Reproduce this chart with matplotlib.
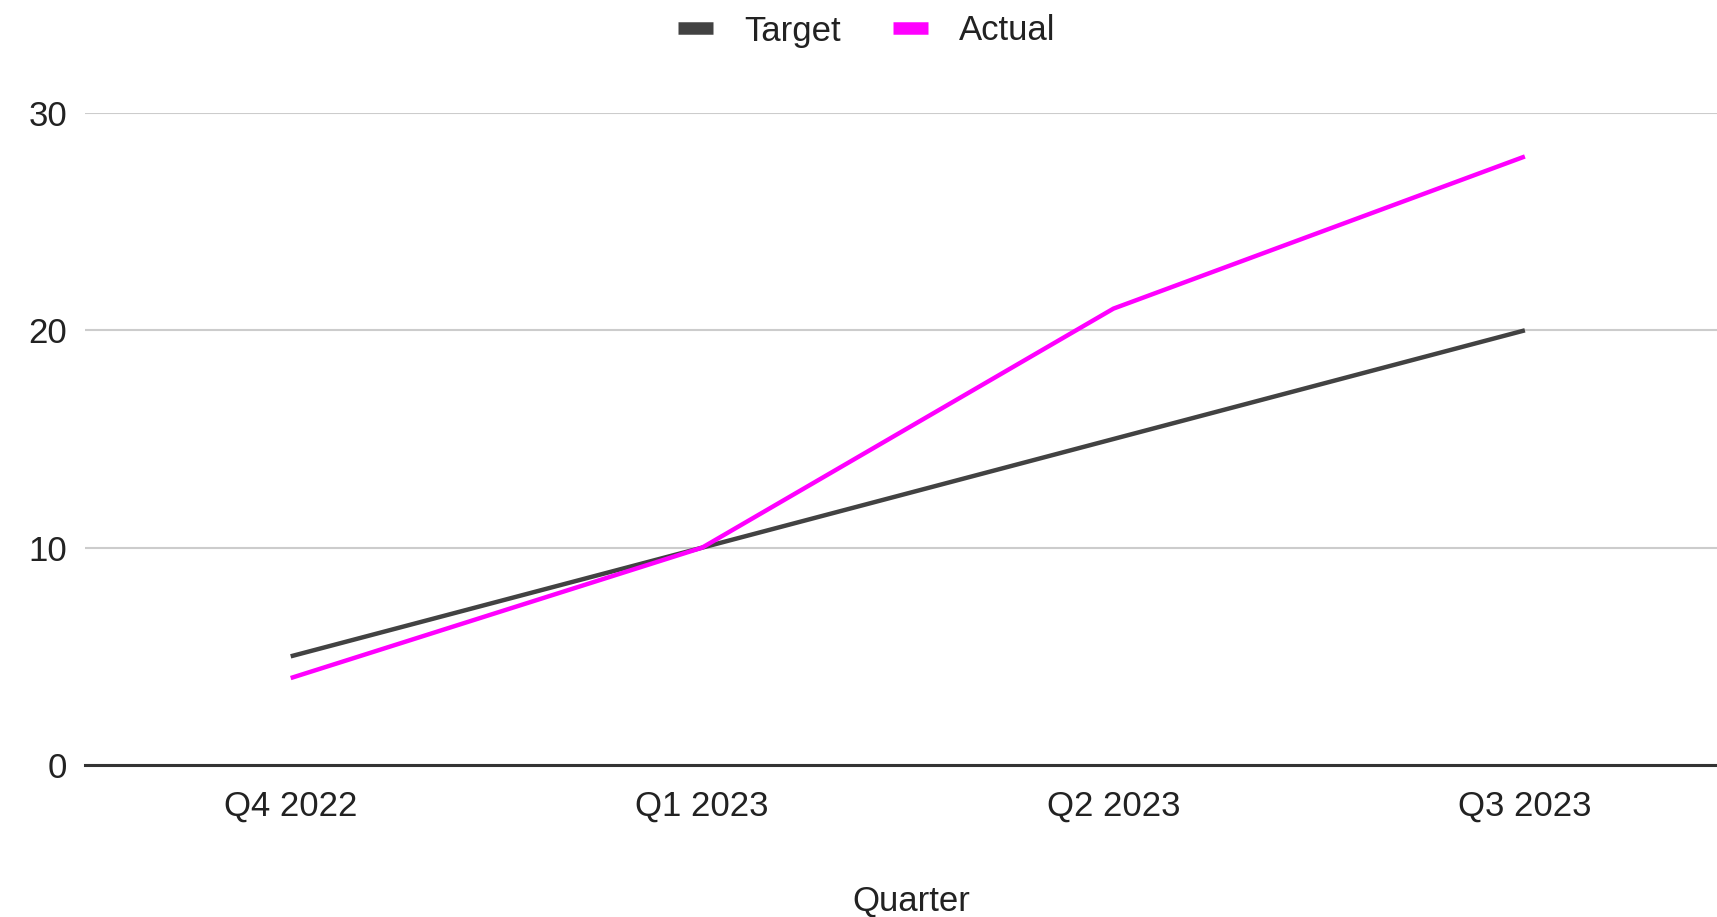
import matplotlib
matplotlib.use("Agg")
import matplotlib.pyplot as plt
from matplotlib.lines import Line2D

# data
quarters = ["Q4 2022", "Q1 2023", "Q2 2023", "Q3 2023"]
target = [5, 10, 15, 20]
actual = [4, 10, 21, 28]
y_ticks = [0, 10, 20, 30]

plt.rcParams['font.family'] = ['Liberation Sans', 'DejaVu Sans']

W, H = 1717, 917
fig = plt.figure(figsize=(W / 100, H / 100), dpi=100)
ax = fig.add_axes([85 / W, 1 - 765 / H, 1 - 85 / W, (765 - 113) / H])

x = list(range(len(quarters)))
ax.plot(x, target, color='#424242', lw=3.2, solid_capstyle='butt', zorder=3)
ax.plot(x, actual, color='#ff00ff', lw=3.2, solid_capstyle='butt', zorder=4)

ax.set_xlim(-0.5, 3.467)
ax.set_ylim(0, 30)
ax.set_yticks(y_ticks)
ax.set_xticks(x)
ax.set_xticklabels(quarters)

ax.grid(axis='y', color='#cccccc', lw=1.5)
ax.set_axisbelow(True)
for s in ['top', 'right', 'left']:
    ax.spines[s].set_visible(False)
ax.spines['bottom'].set_color('#333333')
ax.spines['bottom'].set_linewidth(2.2)
ax.spines['bottom'].set_zorder(5)

ax.tick_params(axis='both', length=0, labelsize=25, colors='#222222')
ax.tick_params(axis='x', pad=18)
ax.tick_params(axis='y', pad=13)

fig.text(911 / W, 1 - 911 / H, "Quarter", ha='center', va='baseline',
         fontsize=25, color='#222222')

handles = [Line2D([], [], color='#424242', lw=9, solid_capstyle='butt'),
           Line2D([], [], color='#ff00ff', lw=9, solid_capstyle='butt')]
fig.legend(handles, ["Target", "Actual"], loc='center', bbox_to_anchor=(867 / W, 1 - 31 / H),
           ncol=2, frameon=False, fontsize=25, handlelength=1.0, handletextpad=0.9,
           columnspacing=1.5, labelcolor='#222222')

fig.savefig("out.png", dpi=100)
